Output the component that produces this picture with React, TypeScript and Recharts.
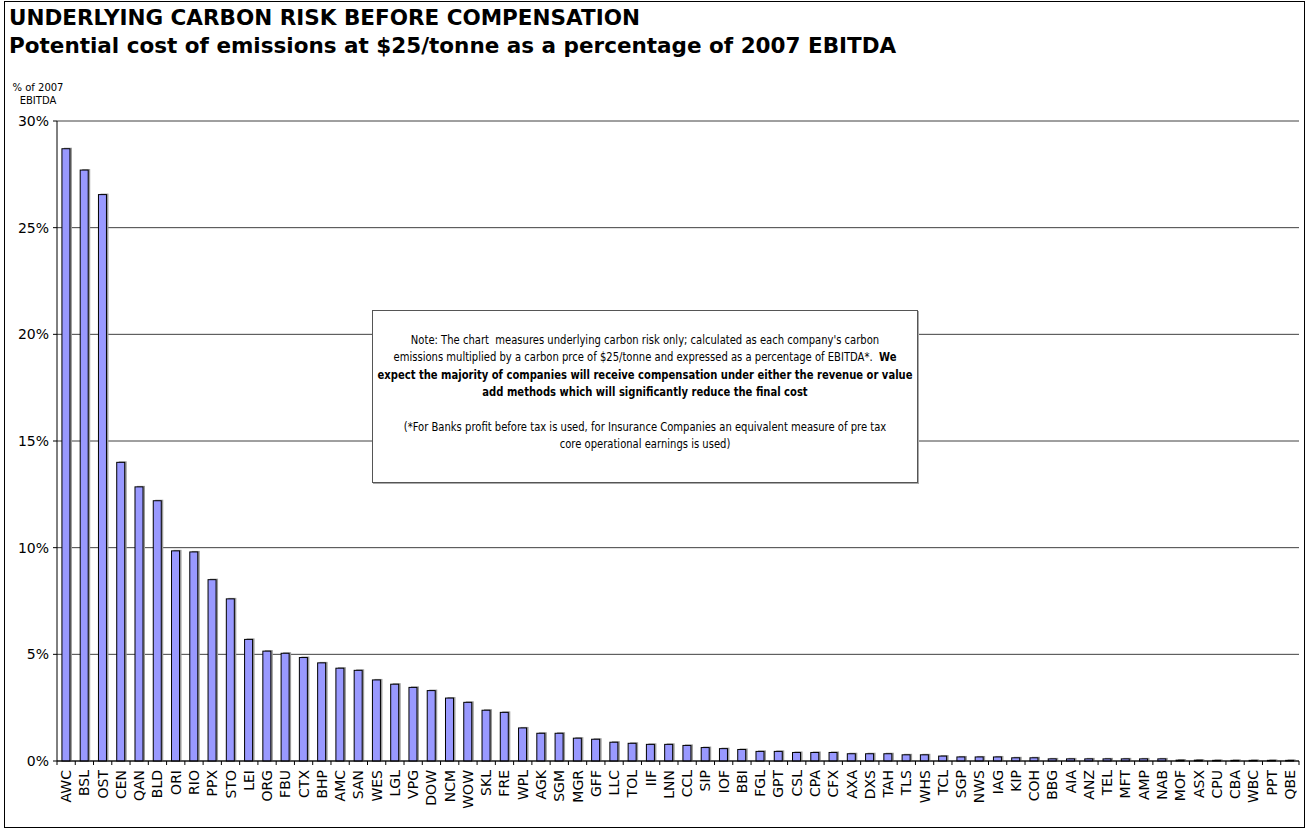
import { BarChart, Bar, XAxis, YAxis, CartesianGrid } from "recharts";

const companies = [
  "AWC", "BSL", "OST", "CEN", "QAN", "BLD", "ORI", "RIO", "PPX", "STO",
  "LEI", "ORG", "FBU", "CTX", "BHP", "AMC", "SAN", "WES", "LGL", "VPG",
  "DOW", "NCM", "WOW", "SKL", "FRE", "WPL", "AGK", "SGM", "MGR", "GFF",
  "LLC", "TOL", "IIF", "LNN", "CCL", "SIP", "IOF", "BBI", "FGL", "GPT",
  "CSL", "CPA", "CFX", "AXA", "DXS", "TAH", "TLS", "WHS", "TCL", "SGP",
  "NWS", "IAG", "KIP", "COH", "BBG", "AIA", "ANZ", "TEL", "MFT", "AMP",
  "NAB", "MOF", "ASX", "CPU", "CBA", "WBC", "PPT", "QBE",
];

// % of 2007 EBITDA
const costPct = [
  28.7, 27.7, 26.55, 14.0, 12.85, 12.2, 9.85, 9.8, 8.5, 7.6,
  5.7, 5.15, 5.05, 4.85, 4.6, 4.35, 4.25, 3.8, 3.6, 3.45,
  3.3, 2.95, 2.75, 2.38, 2.28, 1.55, 1.3, 1.3, 1.07, 1.02,
  0.88, 0.83, 0.78, 0.78, 0.73, 0.63, 0.58, 0.54, 0.45, 0.45,
  0.4, 0.4, 0.4, 0.34, 0.34, 0.34, 0.29, 0.29, 0.23, 0.19,
  0.19, 0.19, 0.15, 0.15, 0.1, 0.1, 0.1, 0.1, 0.1, 0.1,
  0.1, 0.04, 0.04, 0.03, 0.03, 0.03, 0.03, 0.03,
];

const yTicks = [0, 5, 10, 15, 20, 25, 30];

const data = companies.map((c, i) => ({ name: c, value: costPct[i] }));

const FONT = "'DejaVu Sans', Verdana, sans-serif";
const HALF_BAND = (1299 - 57) / companies.length / 2;

const XTick = (props: any) => {
  const { x, y, payload, index } = props;
  const ty = y + 3;
  return (
    <g>
      <line x1={x - HALF_BAND} x2={x - HALF_BAND} y1={y - 6} y2={y - 2} stroke="#000" />
      {index === companies.length - 1 && (
        <line x1={x + HALF_BAND} x2={x + HALF_BAND} y1={y - 6} y2={y - 2} stroke="#000" />
      )}
      <text
        x={x}
        y={ty}
        transform={`rotate(-90, ${x}, ${ty})`}
        textAnchor="end"
        dominantBaseline="central"
        fontSize={14}
        fontFamily={FONT}
        fill="#000"
      >
        {payload.value}
      </text>
    </g>
  );
};

const ShadowBar = (props: any) => {
  const { x, y, width, height } = props;
  if (!height || height <= 0) return null;
  return (
    <g>
      <rect x={x + 2} y={y - 1} width={width} height={height + 1} fill="#9a9a9a" />
      <rect x={x} y={y} width={width} height={height} fill="#9999ff" stroke="#000" strokeWidth={1} />
    </g>
  );
};

export default function App() {
  return (
    <div
      style={{
        position: "absolute",
        left: 0,
        top: 0,
        width: 1309,
        height: 828,
        background: "#fff",
        fontFamily: FONT,
        color: "#000",
      }}
    >
      <BarChart
        width={1309}
        height={828}
        data={data}
        margin={{ top: 121, right: 10, bottom: 0, left: 0 }}
        barCategoryGap="27%"
      >
        <CartesianGrid vertical={false} stroke="#404040" />
        <XAxis
          dataKey="name"
          interval={0}
          height={67}
          tickLine={false}
          tickSize={4}
          tickMargin={2}
          axisLine={{ stroke: "#000" }}
          tick={<XTick />}
        />
        <YAxis
          width={57}
          domain={[0, 30]}
          ticks={yTicks}
          tickFormatter={(v) => `${v}%`}
          tick={{ fill: "#000", fontSize: 14, fontFamily: FONT }}
          tickSize={4}
          tickMargin={4}
          axisLine={{ stroke: "#000" }}
          tickLine={{ stroke: "#000" }}
        />
        <Bar
          dataKey="value"
          fill="#9999ff"
          shape={(p: any) => <ShadowBar {...p} />}
          isAnimationActive={false}
        />
      </BarChart>

      <div
        style={{
          position: "absolute",
          left: 4,
          top: 1,
          width: 1301,
          height: 827,
          border: "1px solid #000",
          boxSizing: "border-box",
          pointerEvents: "none",
        }}
      />

      <div
        style={{
          position: "absolute",
          left: 9,
          top: 4,
          fontWeight: "bold",
          fontSize: 21.5,
          lineHeight: "28px",
          whiteSpace: "nowrap",
        }}
      >
        UNDERLYING CARBON RISK BEFORE COMPENSATION
        <br />
        Potential cost of emissions at $25/tonne as a percentage of 2007 EBITDA
      </div>

      <div
        style={{
          position: "absolute",
          left: 2,
          top: 81,
          width: 72,
          fontSize: 10,
          lineHeight: "13px",
          textAlign: "center",
          whiteSpace: "nowrap",
        }}
      >
        % of 2007
        <br />
        EBITDA
      </div>

      <div
        style={{
          position: "absolute",
          left: 372,
          top: 310,
          width: 546,
          height: 173,
          boxSizing: "border-box",
          border: "1px solid #555",
          boxShadow: "1px 1px 0 #aaa",
          background: "#fff",
          overflow: "hidden",
        }}
      >
        <div
          style={{
            position: "absolute",
            left: "50%",
            top: 20,
            transform: "translateX(-50%) scaleX(0.77)",
            fontSize: 13,
            lineHeight: "17.4px",
            textAlign: "center",
            whiteSpace: "nowrap",
          }}
        >
          Note: The chart&nbsp; measures underlying carbon risk only; calculated as each company's carbon
          <br />
          emissions multiplied by a carbon prce of $25/tonne and expressed as a percentage of EBITDA*.&nbsp;{" "}
          <b>We</b>
          <br />
          <b>expect the majority of companies will receive compensation under either the revenue or value</b>
          <br />
          <b>add methods which will significantly reduce the final cost</b>
          <br />
          <br />
          (*For Banks profit before tax is used, for Insurance Companies an equivalent measure of pre tax
          <br />
          core operational earnings is used)
        </div>
      </div>
    </div>
  );
}
